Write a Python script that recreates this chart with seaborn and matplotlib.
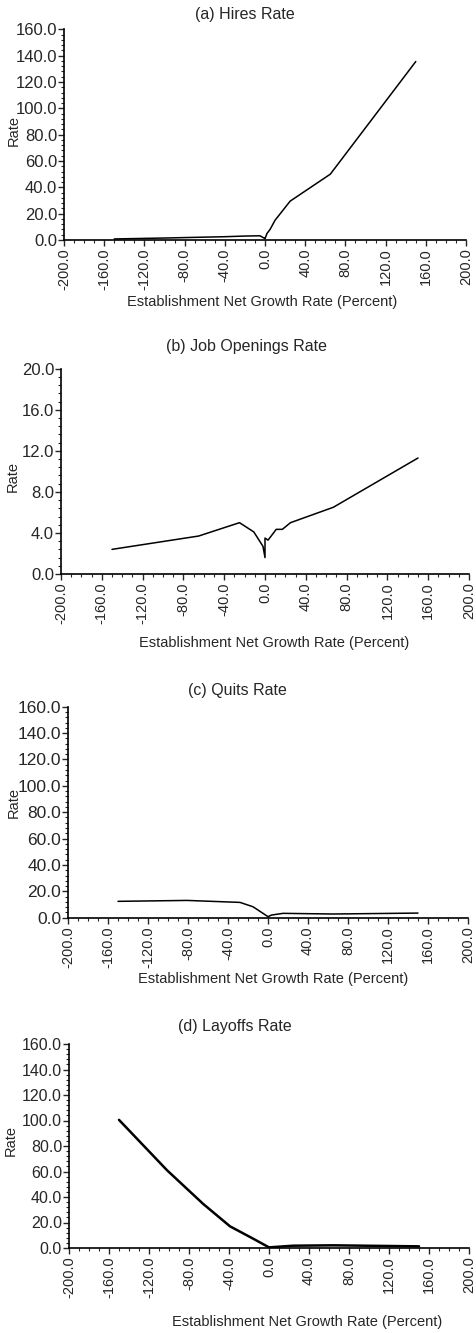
import matplotlib
matplotlib.use("Agg")
import matplotlib.pyplot as plt
from matplotlib.ticker import AutoMinorLocator, FormatStrFormatter
import seaborn as sns
import pandas as pd

# values (growth rate in percent -> rate)
hires_x = [-150, -100, -70, -40, -20, -5, -1, 0, 2, 5, 10, 25, 65, 150]
hires_y = [0.8, 1.5, 2.0, 2.5, 3.0, 3.2, 1.5, 1.0, 5.0, 8.0, 15.0, 29.5, 50.0, 135.5]

openings_x = [-150, -65, -25, -11, -2, 0, 0, 3, 11, 17, 25, 67, 150]
openings_y = [2.4, 3.7, 5.0, 4.1, 2.7, 1.6, 3.5, 3.3, 4.35, 4.35, 5.0, 6.5, 11.3]

quits_x = [-150, -81, -28, -15, -5, 0, 3.5, 15, 65, 150]
quits_y = [12.4, 13.1, 11.6, 8.3, 3.3, 0.8, 2.0, 3.3, 2.8, 3.5]

layoffs_x = [-150, -102, -66, -39, -17, 0, 24, 64, 150]
layoffs_y = [100.5, 61.0, 34.7, 17.0, 7.8, 0.5, 1.8, 2.1, 1.3]

titles = ["(a) Hires Rate", "(b) Job Openings Rate", "(c) Quits Rate", "(d) Layoffs Rate"]
xlabel = "Establishment Net Growth Rate (Percent)"
ylabel = "Rate"
x_ticks = list(range(-200, 201, 40))
y_ticks = [list(range(0, 161, 20)), list(range(0, 21, 4)),
           list(range(0, 161, 20)), list(range(0, 161, 20))]

sns.set_style("ticks")
plt.rcParams["font.family"] = ["Liberation Sans", "DejaVu Sans"]

W, H = 476, 1333
fig = plt.figure(figsize=(W / 100, H / 100), dpi=100)

# axes boxes in pixels: left, top, right, bottom
boxes = [(64, 29.3, 466, 240), (61, 368.7, 469, 574),
         (68, 706.7, 468, 917.7), (69, 1044, 469, 1248)]
title_pos = [(245, 14), (246, 347), (237, 691), (235, 1027)]
xlabel_pos = [(262, 302), (274, 643), (273, 979), (307, 1322)]
ylabel_pos = [(14, 130), (13, 477), (14, 803), (11, 1140)]
ytick_size = [12, 12, 12.5, 11.5]
line_w = [1.1, 1.1, 1.1, 1.8]

data = [(hires_x, hires_y), (openings_x, openings_y),
        (quits_x, quits_y), (layoffs_x, layoffs_y)]

for i, (xs, ys) in enumerate(data):
    l, t, r, b = boxes[i]
    ax = fig.add_axes([l / W, 1 - b / H, (r - l) / W, (b - t) / H])
    df = pd.DataFrame({"x": xs, "y": ys})
    sns.lineplot(data=df, x="x", y="y", ax=ax, sort=False, estimator=None,
                 color="black", linewidth=line_w[i])
    ax.set_xlim(-200, 200)
    ax.set_ylim(y_ticks[i][0], y_ticks[i][-1])
    ax.set_xticks(x_ticks)
    ax.set_yticks(y_ticks[i])
    ax.xaxis.set_major_formatter(FormatStrFormatter("%.1f"))
    ax.yaxis.set_major_formatter(FormatStrFormatter("%.1f"))
    ax.xaxis.set_minor_locator(AutoMinorLocator(4))
    ax.yaxis.set_minor_locator(AutoMinorLocator(5))
    ax.tick_params(axis="x", which="major", labelsize=10.5, rotation=90,
                   length=4, width=1, pad=2, direction="out")
    ax.tick_params(axis="y", which="major", labelsize=ytick_size[i], length=4,
                   width=1, pad=1, direction="out")
    ax.tick_params(which="minor", length=2, width=0.8, direction="out")
    for s in ["top", "right"]:
        ax.spines[s].set_visible(False)
    for s in ["left", "bottom"]:
        ax.spines[s].set_linewidth(1.2)
        ax.spines[s].set_color("black")
    ax.set_xlabel("")
    ax.set_ylabel("")

    tx, ty = title_pos[i]
    fig.text(tx / W, 1 - ty / H, titles[i], ha="center", va="center", fontsize=11.5)
    xx, xy = xlabel_pos[i]
    fig.text(xx / W, 1 - xy / H, xlabel, ha="center", va="center", fontsize=10.5)
    yx, yy = ylabel_pos[i]
    fig.text(yx / W, 1 - yy / H, ylabel, ha="center", va="center",
             rotation=90, fontsize=10.5)

fig.savefig("out.png", dpi=100, facecolor="white")
